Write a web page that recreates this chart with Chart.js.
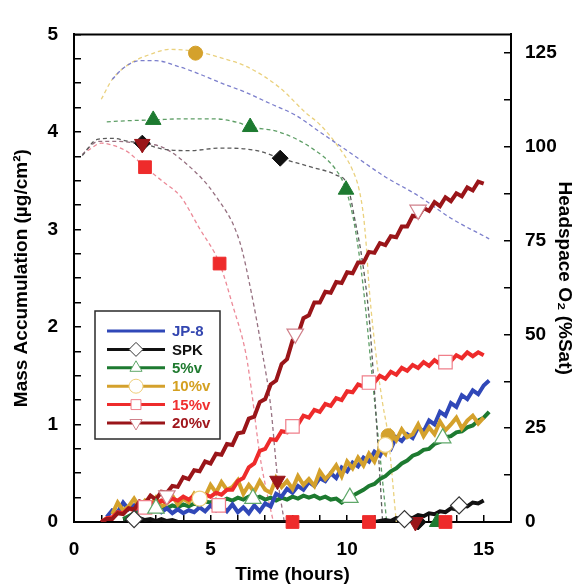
<!DOCTYPE html>
<html>
<head>
<meta charset="utf-8">
<script src="https://cdn.jsdelivr.net/npm/chart.js@4/dist/chart.umd.min.js"></script>
<style>
  html, body { margin: 0; padding: 0; background: #fff; }
  canvas { display: block; }
</style>
</head>
<body>
<canvas id="chart" width="582" height="586"></canvas>
<script>
// time grid for the mass accumulation traces (hours)
const hours = [1.0,1.2,1.4,1.6,1.8,2.0,2.2,2.4,2.6,2.8,
  3.0,3.2,3.4,3.6,3.8,4.0,4.2,4.4,4.6,4.8,
  5.0,5.2,5.4,5.6,5.8,6.0,6.2,6.4,6.6,6.8,
  7.0,7.2,7.4,7.6,7.8,8.0,8.2,8.4,8.6,8.8,
  9.0,9.2,9.4,9.6,9.8,10.0,10.2,10.4,10.6,10.8,
  11.0,11.2,11.4,11.6,11.8,12.0,12.2,12.4,12.6,12.8,
  13.0,13.2,13.4,13.6,13.8,14.0,14.2,14.4,14.6,14.8,
  15.0,15.2];

// mass accumulation (ug/cm2), left axis
const jp8Mass = [null,0.05,0.12,0.10,0.20,0.13,0.17,0.12,0.16,0.11,
  0.15,0.10,0.14,0.09,0.13,0.09,0.12,0.10,0.15,0.11,
  0.17,0.12,0.17,0.11,0.18,0.10,0.15,0.09,0.17,0.11,
  0.19,0.16,0.29,0.26,0.34,0.30,0.37,0.33,0.41,0.37,
  0.45,0.42,0.50,0.45,0.56,0.52,0.61,0.57,0.66,0.62,
  0.72,0.68,0.79,0.75,0.87,0.83,0.90,0.86,0.97,0.93,
  1.04,1.00,1.13,1.09,1.22,1.18,1.30,1.26,1.35,1.31,
  1.40,1.45];
const spkMass = [null,null,null,null,0.02,0.03,0.02,0.04,0.02,0.03,
  0.01,0.03,0.01,0.02,0,0,0,0,0,0,
  0,0,0,0,0,0,0,0,0,0,
  0,0,0,0,0,0,0,0,0,0,
  0,0,0,0,0,0,0,0,0,0,
  0,0.01,0.02,0.01,0.04,0.03,0.05,0.04,0.07,0.06,
  0.09,0.08,0.11,0.10,0.14,0.13,0.17,0.16,0.20,0.19,
  0.22,null];
const v5Mass = [null,null,null,null,0.03,0.06,0.09,0.13,0.11,0.15,
  0.13,0.16,0.14,0.17,0.15,0.18,0.16,0.19,0.17,0.21,
  0.20,0.23,0.21,0.24,0.22,0.25,0.23,0.26,0.24,0.26,
  0.23,0.25,0.22,0.25,0.23,0.26,0.24,0.27,0.25,0.27,
  0.24,0.26,0.23,0.24,0.20,0.24,0.27,0.30,0.33,0.37,
  0.39,0.44,0.47,0.52,0.55,0.60,0.63,0.68,0.70,0.74,
  0.75,0.80,0.82,0.87,0.88,0.92,0.93,0.97,0.99,1.04,
  1.07,1.13];
const v10Mass = [null,null,0.08,0.20,0.12,0.16,0.24,0.15,0.22,0.17,
  0.25,0.16,0.19,0.27,0.18,0.24,0.20,0.29,0.22,0.26,
  0.38,0.30,0.41,0.33,0.36,0.43,0.29,0.38,0.31,0.42,
  0.33,0.30,0.45,0.36,0.42,0.34,0.47,0.38,0.44,0.37,
  0.52,0.44,0.50,0.58,0.47,0.62,0.55,0.66,0.58,0.70,
  0.62,0.76,0.70,0.92,0.84,0.95,0.87,0.90,1.00,0.88,
  0.97,0.90,1.03,0.94,1.00,1.07,0.96,1.04,1.09,1.01,
  1.07,null];
const v15Mass = [0.00,0.04,0.05,0.10,0.09,0.14,0.12,0.17,0.15,0.20,
  0.18,0.22,0.20,0.24,0.22,0.26,0.23,0.27,0.24,0.28,
  0.26,0.30,0.28,0.33,0.33,0.42,0.45,0.56,0.60,0.73,
  0.75,0.85,0.84,0.93,0.92,1.01,1.00,1.09,1.07,1.15,
  1.13,1.21,1.19,1.27,1.25,1.34,1.33,1.41,1.39,1.46,
  1.43,1.50,1.47,1.54,1.51,1.58,1.55,1.61,1.58,1.64,
  1.60,1.66,1.62,1.68,1.65,1.71,1.68,1.74,1.70,1.74,
  1.71,null];
const v20Mass = [0.00,0.03,0.03,0.09,0.08,0.14,0.13,0.21,0.19,0.27,
  0.23,0.31,0.30,0.37,0.36,0.46,0.44,0.53,0.52,0.62,
  0.60,0.70,0.69,0.80,0.79,0.91,0.92,1.06,1.08,1.23,
  1.26,1.41,1.45,1.62,1.67,1.86,1.92,2.09,2.12,2.25,
  2.25,2.36,2.35,2.46,2.45,2.56,2.55,2.66,2.66,2.77,
  2.76,2.86,2.84,2.93,2.92,3.03,3.03,3.14,3.13,3.22,
  3.19,3.28,3.24,3.33,3.29,3.37,3.34,3.43,3.40,3.49,
  3.47,null];

// open symbols on the mass traces
const spkMarkT = [2.2, 12.1, 14.1],            spkMarkM = [0.03, 0.03, 0.17];
const v5MarkT = [3.0, 6.55, 10.1, 13.5],        v5MarkM = [0.14, 0.24, 0.25, 0.86];
const v10MarkT = [4.6, 11.4],                   v10MarkM = [0.24, 0.79];
const v15MarkT = [2.6, 5.3, 8.0, 10.8, 13.6],   v15MarkM = [0.15, 0.17, 0.98, 1.43, 1.64];
const v20MarkT = [3.4, 8.1, 12.6],              v20MarkM = [0.27, 1.93, 3.2];

// headspace O2 (%Sat), right axis
const jp8O2T = [1.4,1.8,2.4,3.0,3.8,4.5,5.4,6.3,7.2,8.1,9.0,10.0,11.4,12.6,13.8,15.2];
const jp8O2 = [118,121,123,123,121.5,119.7,117,114.5,111.5,108.5,104,99,92,87,81,75.5];
const spkO2T = [0.3,0.85,1.4,2.0,2.5,3.2,4.2,5.4,6.7,7.55,8.7,9.6,10.0,10.3,10.55,10.8,11.0,11.2,11.3];
const spkO2 = [97.7,102,102.3,101.5,101,99.5,99,99.7,99,97,94.6,92.5,90,80,70,55,35,12,0];
const v5O2T = [1.2,2.0,2.9,4.0,5.1,6.0,6.42,7.5,8.7,9.6,9.96,10.3,10.6,10.9,11.2,11.45];
const v5O2 = [106.7,107,107.2,107.5,107.5,106.5,105.4,104,99.7,93.8,88.6,78,62,40,18,0];
const v10O2T = [1.0,1.4,2.0,2.8,3.5,4.45,5.5,6.3,7.5,8.5,9.0,9.6,10.2,10.44,10.6,10.7,10.8,11.1,11.3,11.5,11.8];
const v10O2 = [112.7,118,122,124.7,126,125.5,123.5,121.5,116,109,106,100.8,93.8,88.6,81.6,73.8,63,42,31.6,23,0];
const v15O2T = [0.5,1.0,1.6,2.0,2.6,3.3,3.9,4.6,5.33,5.8,6.3,6.5,6.8,7.0,7.3];
const v15O2 = [99,101,100,98.5,94.6,90.5,86.8,78.2,68.9,58,44.6,35,18,10,0];
const v20O2T = [0.3,0.9,1.6,2.5,3.1,4.1,5.2,6.06,6.5,6.9,7.2,7.45,7.7];
const v20O2 = [98,101.5,101.5,100.8,100.3,95.6,86.8,74.9,60.9,45,31,12,0];

// filled symbols on the O2 traces
const spkO2MarkT = [2.5, 7.55, 12.6],            spkO2Mark = [101, 97, 0];
const v5O2MarkT = [2.9, 6.45, 9.96, 13.3],       v5O2Mark = [107.2, 105.3, 88.6, 0];
const v10O2MarkT = [4.45, 11.5],                 v10O2Mark = [125, 23];
const v15O2MarkT = [2.6, 5.33, 8.0, 10.8, 13.6], v15O2Mark = [94.6, 68.9, 0, 0, 0];
const v20O2MarkT = [2.5, 7.45, 12.5],            v20O2Mark = [100.8, 11, 0];

const seriesNames = ['JP-8', 'SPK', '5%v', '10%v', '15%v', '20%v'];
const xTicks = [0, 5, 10, 15];
const yTicks = [0, 1, 2, 3, 4, 5];
const y2Ticks = [0, 25, 50, 75, 100, 125];

const solid = ['#3048b8', '#111111', '#1d7a30', '#d4a12c', '#ee2b2b', '#9a1519'];
const dashed = ['#7c7fcc', '#5a5a5a', '#5e9e66', '#ead17e', '#ec8a98', '#967080'];
const openEdge = ['#3048b8', '#333333', '#5fa86a', '#efcf7a', '#f07f8a', '#d0808a'];
const textCol = ['#3346b0', '#111111', '#1f7a2f', '#d4a020', '#f03030', '#a0161c'];
const shapes = [null, 'rectRot', 'triangle', 'circle', 'rect', 'triangle'];
const shapeRot = [0, 0, 0, 0, 0, 180];
const fillR = [0, 8, 9, 7, 9, 9];

function pts(xs, ys) { return xs.map((x, i) => ({ x: x, y: ys[i] })); }

const massData = [jp8Mass, spkMass, v5Mass, v10Mass, v15Mass, v20Mass];
const o2Data = [[jp8O2T, jp8O2], [spkO2T, spkO2], [v5O2T, v5O2], [v10O2T, v10O2], [v15O2T, v15O2], [v20O2T, v20O2]];
const markData = [null, [spkMarkT, spkMarkM], [v5MarkT, v5MarkM], [v10MarkT, v10MarkM], [v15MarkT, v15MarkM], [v20MarkT, v20MarkM]];
const o2MarkData = [null, [spkO2MarkT, spkO2Mark], [v5O2MarkT, v5O2Mark], [v10O2MarkT, v10O2Mark], [v15O2MarkT, v15O2Mark], [v20O2MarkT, v20O2Mark]];
const massOrder = [12, 14, 13, 11, 10, 9];

const datasets = [];
seriesNames.forEach((name, i) => {
  datasets.push({
    label: name + ' O2', data: pts(o2Data[i][0], o2Data[i][1]), yAxisID: 'y2',
    borderColor: dashed[i], borderWidth: 1.3, borderDash: [4, 3], pointRadius: 0,
    cubicInterpolationMode: 'monotone', order: 30 + i
  });
  datasets.push({
    label: name, data: pts(hours, massData[i]), yAxisID: 'y',
    borderColor: solid[i], borderWidth: 4, pointRadius: 0, tension: 0,
    spanGaps: false, order: massOrder[i]
  });
  if (markData[i]) {
    datasets.push({
      label: name + ' marks', data: pts(markData[i][0], markData[i][1]), yAxisID: 'y',
      showLine: false, clip: false, pointStyle: shapes[i], rotation: shapeRot[i],
      pointRadius: fillR[i] + 0.5, pointBackgroundColor: '#ffffff',
      pointBorderColor: openEdge[i], pointBorderWidth: 1.2, order: 2
    });
    datasets.push({
      label: name + ' O2 marks', data: pts(o2MarkData[i][0], o2MarkData[i][1]), yAxisID: 'y2',
      showLine: false, clip: false, pointStyle: shapes[i], rotation: shapeRot[i],
      pointRadius: fillR[i], pointBackgroundColor: solid[i],
      pointBorderColor: solid[i], pointBorderWidth: 1, order: 8 - i
    });
  }
});

function legendMarker(ctx, style, x, y, r, rot) {
  ctx.beginPath();
  if (style === 'circle') {
    ctx.arc(x, y, r, 0, Math.PI * 2);
  } else if (style === 'rect') {
    const s = r * Math.SQRT1_2;
    ctx.rect(x - s, y - s, 2 * s, 2 * s);
  } else if (style === 'rectRot') {
    ctx.moveTo(x, y - r); ctx.lineTo(x + r, y); ctx.lineTo(x, y + r); ctx.lineTo(x - r, y);
    ctx.closePath();
  } else if (style === 'triangle') {
    const d = rot ? -1 : 1;
    ctx.moveTo(x, y - d * r);
    ctx.lineTo(x + 0.866 * r, y + d * 0.5 * r);
    ctx.lineTo(x - 0.866 * r, y + d * 0.5 * r);
    ctx.closePath();
  }
  ctx.fillStyle = '#fff';
  ctx.fill();
  ctx.stroke();
}

const framePlugin = {
  id: 'frame',
  beforeDatasetsDraw(chart) {
    const { ctx, chartArea: a } = chart;
    ctx.save();
    ctx.strokeStyle = '#000';
    ctx.lineWidth = 2;
    ctx.beginPath();
    ctx.moveTo(a.left - 1, a.top);
    ctx.lineTo(a.right + 1, a.top);
    ctx.stroke();
    ctx.restore();
  },
  afterDraw(chart) {
    const ctx = chart.ctx;
    const box = { x: 95, y: 311, w: 125, h: 128 };
    ctx.save();
    ctx.fillStyle = '#fff';
    ctx.fillRect(box.x, box.y, box.w, box.h);
    ctx.strokeStyle = '#2a2a2a';
    ctx.lineWidth = 1.5;
    ctx.strokeRect(box.x, box.y, box.w, box.h);
    ctx.font = "bold 15px 'Liberation Sans', Arial, sans-serif";
    ctx.textBaseline = 'middle';
    seriesNames.forEach((name, i) => {
      const y = 331 + i * 18.4;
      ctx.strokeStyle = solid[i];
      ctx.lineWidth = 3;
      ctx.beginPath();
      ctx.moveTo(107, y);
      ctx.lineTo(165, y);
      ctx.stroke();
      if (shapes[i]) {
        ctx.lineWidth = 1;
        ctx.strokeStyle = openEdge[i];
        legendMarker(ctx, shapes[i], 136, y, 7, shapeRot[i]);
      }
      ctx.fillStyle = textCol[i];
      ctx.fillText(name, 172, y + 1);
    });
    ctx.restore();
  }
};

const tickFont = { family: "'Liberation Sans', Arial, sans-serif", size: 19, weight: 'bold' };
const titleFont = { family: "'Liberation Sans', Arial, sans-serif", size: 19, weight: 'bold' };
const gridOpts = { drawOnChartArea: false, drawTicks: true, tickLength: -7, color: '#000', lineWidth: 1.5 };

new Chart(document.getElementById('chart'), {
  type: 'line',
  data: { datasets: datasets },
  options: {
    responsive: false,
    animation: false,
    events: [],
    layout: { padding: { top: 19, left: 0, right: 0, bottom: 0 } },
    plugins: { legend: { display: false }, tooltip: { enabled: false } },
    scales: {
      x: {
        type: 'linear', position: 'bottom', min: 0, max: 16,
        grid: gridOpts,
        border: { color: '#000', width: 2 },
        ticks: {
          stepSize: 1, autoSkip: false, maxRotation: 0, padding: 23,
          font: tickFont, color: '#000',
          callback: v => xTicks.includes(v) ? String(v) : ''
        },
        title: { display: true, text: 'Time (hours)', font: titleFont, color: '#000', padding: { top: 0, bottom: 0 } },
        afterFit: s => { s.height = 64; }
      },
      y: {
        type: 'linear', position: 'left', min: 0, max: 5,
        grid: gridOpts,
        border: { color: '#000', width: 2 },
        ticks: {
          stepSize: 0.25, autoSkip: false, padding: 23, includeBounds: false,
          font: tickFont, color: '#000',
          callback: v => yTicks.includes(v) ? String(v) : ''
        },
        title: { display: true, text: 'Mass Accumulation (\u00b5g/cm\u00b2)', font: titleFont, color: '#000', padding: { top: 10, bottom: 0 } },
        afterFit: s => { s.width = 74; }
      },
      y2: {
        type: 'linear', position: 'right', min: 0, max: 130,
        grid: gridOpts,
        border: { color: '#000', width: 2 },
        ticks: {
          stepSize: 12.5, autoSkip: false, padding: 21, includeBounds: false,
          font: tickFont, color: '#000',
          callback: v => y2Ticks.includes(v) ? String(v) : ''
        },
        title: { display: true, text: 'Headspace O\u2082 (%Sat)', font: titleFont, color: '#000', padding: { top: 6, bottom: 0 } },
        afterFit: s => { s.width = 71; }
      }
    }
  },
  plugins: [framePlugin]
});
</script>
</body>
</html>
